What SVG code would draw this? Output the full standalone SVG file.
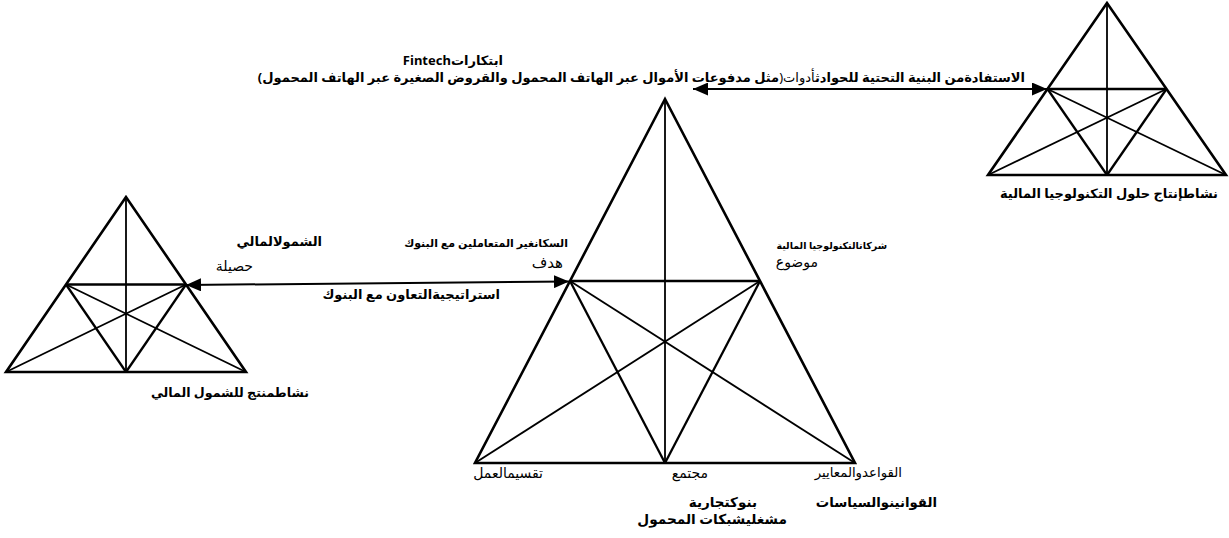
<svg xmlns="http://www.w3.org/2000/svg" width="1229" height="538" viewBox="0 0 1229 538">
<style>
.edge{fill:none;stroke:#000;stroke-width:2.6;stroke-linejoin:miter}
.in{stroke:#000;stroke-width:2.3;fill:none}
.thin{stroke:#000;stroke-width:1.8;fill:none}
.conn{stroke:#000;stroke-width:2;fill:none}
text{font-family:"Noto Sans","DejaVu Sans",sans-serif;fill:#000}
.b{font-size:13px;font-weight:bold}
.r{font-size:14px;font-weight:normal}
.s{font-size:9.5px;font-weight:bold}
</style>
<defs>
<marker id="ah" viewBox="0 0 15 13" refX="15" refY="6.5" markerWidth="15" markerHeight="13" markerUnits="userSpaceOnUse" orient="auto-start-reverse">
<path d="M0,0 L15,6.5 L0,13 Z" fill="#000"/>
</marker>
</defs>
<rect width="1229" height="538" fill="#fff"/>

<g id="triangle-left">
<polygon class="edge" points="126,197 6,372 246,372"/>
<line class="in" x1="66" y1="284.5" x2="186" y2="284.5"/>
<line class="thin" x1="126" y1="197" x2="126" y2="372"/>
<line class="in" x1="66" y1="284.5" x2="126" y2="372"/>
<line class="in" x1="186" y1="284.5" x2="126" y2="372"/>
<line class="thin" x1="66" y1="284.5" x2="246" y2="372"/>
<line class="thin" x1="186" y1="284.5" x2="6" y2="372"/>
</g>

<g id="triangle-center">
<polygon class="edge" points="665,99 475,463 855,463"/>
<line class="in" x1="570" y1="281" x2="760" y2="281"/>
<line class="thin" x1="665" y1="99" x2="665" y2="463"/>
<line class="in" x1="570" y1="281" x2="665" y2="463"/>
<line class="in" x1="760" y1="281" x2="665" y2="463"/>
<line class="thin" x1="570" y1="281" x2="855" y2="463"/>
<line class="thin" x1="760" y1="281" x2="475" y2="463"/>
</g>

<g id="triangle-right">
<polygon class="edge" points="1107,3 988,175 1226,175"/>
<line class="in" x1="1047.5" y1="89" x2="1166.5" y2="89"/>
<line class="thin" x1="1107" y1="3" x2="1107" y2="175"/>
<line class="in" x1="1047.5" y1="89" x2="1107" y2="175"/>
<line class="in" x1="1166.5" y1="89" x2="1107" y2="175"/>
<line class="thin" x1="1047.5" y1="89" x2="1226" y2="175"/>
<line class="thin" x1="1166.5" y1="89" x2="988" y2="175"/>
</g>

<g id="connectors">
<line class="conn" x1="186" y1="285" x2="569" y2="281.5" marker-start="url(#ah)" marker-end="url(#ah)"/>
<line class="conn" x1="693" y1="89" x2="1047" y2="89" marker-start="url(#ah)" marker-end="url(#ah)"/>
</g>

<g id="label-fintech">
<text class="b" x="503" y="65" direction="rtl" text-anchor="start">ابتكاراتFintech</text>
<text class="b" x="1025" y="82" direction="rtl" text-anchor="start">الاستفادةمن البنية التحتية للحوادث<tspan font-weight="normal">أدوات(</tspan>مثل مدفوعات الأموال عبر الهاتف المحمول والقروض الصغيرة عبر الهاتف المحمول)</text>
</g>

<g id="label-left">
<text class="b" x="322" y="246" direction="rtl" text-anchor="start">الشمولالمالي</text>
<text class="r" x="253" y="271" direction="rtl" text-anchor="start">حصيلة</text>
<text class="b" x="309" y="397" direction="rtl" text-anchor="start" style="font-size:12.6px">نشاطمنتج للشمول المالي</text>
</g>

<g id="label-strategy">
<text class="b" x="500" y="299" direction="rtl" text-anchor="start">استراتيجيةالتعاون مع البنوك</text>
</g>

<g id="label-center">
<text class="b" x="568" y="247" direction="rtl" text-anchor="start" style="font-size:11px">السكانغير المتعاملين مع البنوك</text>
<text class="r" x="563" y="268" direction="rtl" text-anchor="start" style="font-size:15px">هدف</text>
<text class="s" x="887" y="249" direction="rtl" text-anchor="start">شركاتالتكنولوجيا المالية</text>
<text class="r" x="818" y="267" direction="rtl" text-anchor="start">موضوع</text>
<text class="r" x="543" y="478" direction="rtl" text-anchor="start">تقسيمالعمل</text>
<text class="r" x="708" y="478" direction="rtl" text-anchor="start">مجتمع</text>
<text class="r" x="902" y="477" direction="rtl" text-anchor="start" style="font-size:13.3px">القواعدوالمعايير</text>
<text class="b" x="757" y="507" direction="rtl" text-anchor="start" style="font-size:13.5px">بنوكتجارية</text>
<text class="b" x="787" y="524" direction="rtl" text-anchor="start" style="font-size:13.7px">مشغليشبكات المحمول</text>
<text class="b" x="937" y="507" direction="rtl" text-anchor="start" style="font-size:13.3px">القوانينوالسياسات</text>
</g>

<g id="label-right">
<text class="b" x="1218" y="198" direction="rtl" text-anchor="start">نشاطإنتاج حلول التكنولوجيا المالية</text>
</g>
</svg>
